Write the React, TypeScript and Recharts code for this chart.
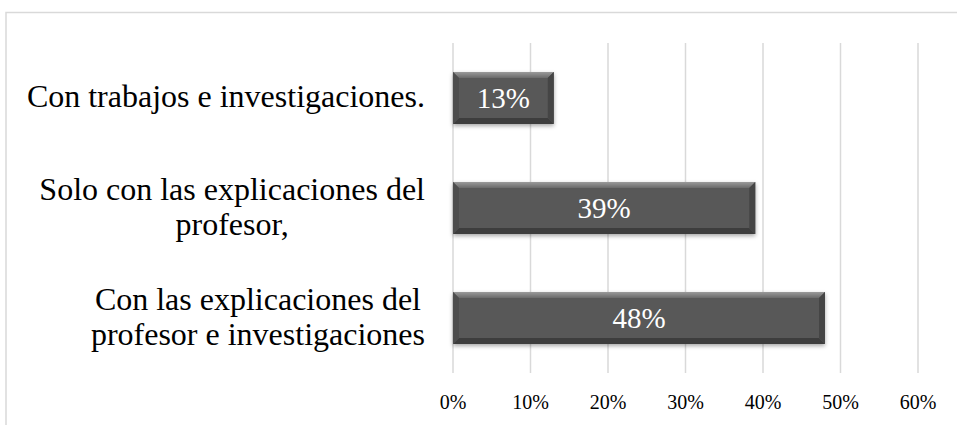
import { Bar, BarChart, CartesianGrid, LabelList, XAxis, YAxis } from "recharts";

const categories = [
  "Con trabajos e investigaciones.",
  "Solo con las explicaciones del profesor,",
  "Con las explicaciones del profesor e investigaciones",
];
const values = [13, 39, 48];
const xTicks = [0, 10, 20, 30, 40, 50, 60];

const data = categories.map((name, i) => ({ name, value: values[i] }));

const SERIF = '"Liberation Serif", "Times New Roman", serif';
const CAT_FONT_SIZE = 32;

let measureCtx: CanvasRenderingContext2D | null = null;
const textWidth = (s: string, size: number) => {
  if (!measureCtx) measureCtx = document.createElement("canvas").getContext("2d");
  if (!measureCtx) return s.length * size * 0.45;
  measureCtx.font = `${size}px "Liberation Serif"`;
  return measureCtx.measureText(s).width;
};

const wrap = (label: string, maxWidth: number) => {
  const words = label.split(" ");
  const lines: string[] = [];
  let cur = "";
  for (const w of words) {
    const next = cur ? `${cur} ${w}` : w;
    if (cur && textWidth(next, CAT_FONT_SIZE) > maxWidth) {
      lines.push(cur);
      cur = w;
    } else {
      cur = next;
    }
  }
  if (cur) lines.push(cur);
  return lines;
};

const CategoryTick = (props: any) => {
  const { x, y, payload } = props;
  const lines = wrap(String(payload.value), 405);
  const widest = Math.max(...lines.map((l) => textWidth(l, CAT_FONT_SIZE)));
  const right = x - 28;
  const cx = right - widest / 2;
  const lineH = 35;
  const first = y - ((lines.length - 1) * lineH) / 2;
  return (
    <text
      textAnchor="middle"
      fontFamily={SERIF}
      fontSize={CAT_FONT_SIZE}
      fill="#000"
    >
      {lines.map((l, i) => (
        <tspan key={i} x={cx} y={first + i * lineH} dy="0.29em">
          {l}
        </tspan>
      ))}
    </text>
  );
};

const PercentTick = (props: any) => {
  const { x, y, payload } = props;
  return (
    <text
      x={x}
      y={y + 36}
      textAnchor="middle"
      fontFamily={SERIF}
      fontSize={20}
      fill="#000"
    >
      {`${payload.value}%`}
    </text>
  );
};

const BevelBar = (props: any) => {
  const { x, y, width, height } = props;
  if (!width || !height) return null;
  const b = 6;
  return (
    <g filter="url(#barShadow)">
      <rect x={x} y={y} width={width} height={height} fill="#585858" />
      <polygon
        points={`${x},${y} ${x + width},${y} ${x + width - b},${y + b} ${x + b},${y + b}`}
        fill="url(#bevelTop)"
      />
      <polygon
        points={`${x},${y + height} ${x + width},${y + height} ${x + width - b},${y + height - b} ${x + b},${y + height - b}`}
        fill="#3e3e3e"
      />
      <polygon
        points={`${x},${y} ${x + b},${y + b} ${x + b},${y + height - b} ${x},${y + height}`}
        fill="#4e4e4e"
      />
      <polygon
        points={`${x + width},${y} ${x + width - b},${y + b} ${x + width - b},${y + height - b} ${x + width},${y + height}`}
        fill="#444444"
      />
    </g>
  );
};

export default function App() {
  return (
    <div
      style={{
        position: "fixed",
        left: 0,
        top: 0,
        width: 957,
        height: 425,
        overflow: "hidden",
        background: "#fff",
      }}
    >
      <div style={{ position: "absolute", left: 0, top: 0 }}>
        <BarChart
          width={957}
          height={425}
          data={data}
          layout="vertical"
          margin={{ top: 43, right: 39, bottom: 0, left: 0 }}
          barSize={52}
        >
          <defs>
            <linearGradient id="bevelTop" x1="0" y1="0" x2="0" y2="1">
              <stop offset="0%" stopColor="#9a9a9a" />
              <stop offset="100%" stopColor="#6a6a6a" />
            </linearGradient>
            <filter id="barShadow" x="-5%" y="-20%" width="110%" height="160%">
              <feDropShadow dx="0" dy="2" stdDeviation="2" floodColor="#000" floodOpacity="0.35" />
            </filter>
          </defs>
          <CartesianGrid horizontal={false} stroke="#d9d9d9" strokeWidth={1.5} />
          <XAxis
            type="number"
            domain={[0, 60]}
            ticks={xTicks}
            interval={0}
            axisLine={false}
            tickLine={false}
            tickSize={0}
            tickMargin={0}
            height={52}
            tick={<PercentTick />}
          />
          <YAxis
            type="category"
            dataKey="name"
            width={453}
            axisLine={false}
            tickLine={false}
            tickSize={0}
            tickMargin={0}
            interval={0}
            tick={<CategoryTick />}
          />
          <Bar dataKey="value" isAnimationActive={false} shape={<BevelBar />}>
            <LabelList
              dataKey="value"
              position="center"
              formatter={(v: any) => `${v}%`}
              fill="#fff"
              fontSize={29}
              fontFamily={SERIF}
            />
          </Bar>
        </BarChart>
      </div>
      <svg
        width={957}
        height={425}
        style={{ position: "absolute", left: 0, top: 0, pointerEvents: "none" }}
      >
        <path d="M6,425 V12.5 H957" fill="none" stroke="#d9d9d9" strokeWidth={1.5} />
      </svg>
    </div>
  );
}
